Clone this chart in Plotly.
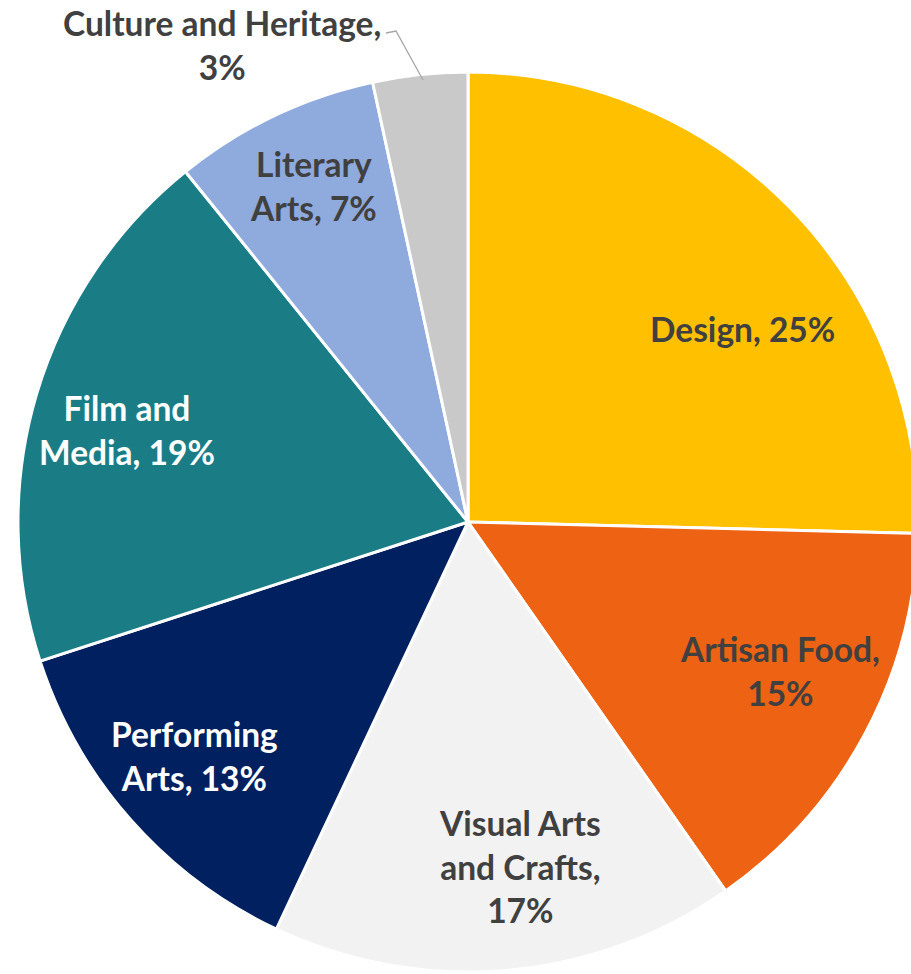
import plotly.graph_objects as go

categories = ["Design", "Artisan Food", "Visual Arts and Crafts", "Performing Arts",
              "Film and Media", "Literary Arts", "Culture and Heritage"]
values = [25.4, 14.9, 16.7, 13.0, 19.2, 7.4, 3.4]
colors = ["#FFC000", "#ED6213", "#F2F2F2", "#002060", "#1A7D86", "#8FAADC", "#C9C9C9"]

label_texts = ["Design, 25%", "Artisan Food,<br>15%", "Visual Arts<br>and Crafts,<br>17%",
               "Performing<br>Arts, 13%", "Film and<br>Media, 19%", "Literary<br>Arts, 7%",
               "Culture and Heritage,<br>3%"]
label_colors = ["#404040", "#404040", "#404040", "#FFFFFF", "#FFFFFF", "#404040", "#404040"]
label_px = [(742, 329), (780, 671), (520, 866), (194, 756), (127, 430), (313, 186), (222, 45)]

W, H = 920, 974          # slightly wider than the window: the pie is clipped at the right, as in the reference
cx, cy, R = 468, 522, 450

fig = go.Figure(go.Pie(
    labels=categories, values=values, sort=False, direction="clockwise", rotation=0,
    marker=dict(colors=colors, line=dict(color="white", width=3)),
    textinfo="none", hoverinfo="label+percent", showlegend=False,
    domain=dict(x=[(cx - R) / W, (cx + R) / W],
                y=[(H - cy - R) / H, (H - cy + R) / H]),
))

for txt, col, (px, py) in zip(label_texts, label_colors, label_px):
    fig.add_annotation(x=px / W, y=1 - py / H, xref="paper", yref="paper", text=txt,
                       showarrow=False, align="center", xanchor="center", yanchor="middle",
                       font=dict(family="Lato", size=33.5, color=col, weight="bold"))

# leader line for the Culture and Heritage label
fig.add_shape(type="path", xref="paper", yref="paper",
              path=f"M {386/W},{1-33/H} L {396/W},{1-31/H} L {423/W},{1-80/H}",
              line=dict(color="#A6A6A6", width=1.3))

fig.update_layout(width=W, height=H, margin=dict(l=0, r=0, t=0, b=0),
                  paper_bgcolor="white", plot_bgcolor="white")
fig.write_html("out.html", config={"displayModeBar": False},
               post_script="document.body.style.margin='0';document.body.style.overflow='hidden';")
